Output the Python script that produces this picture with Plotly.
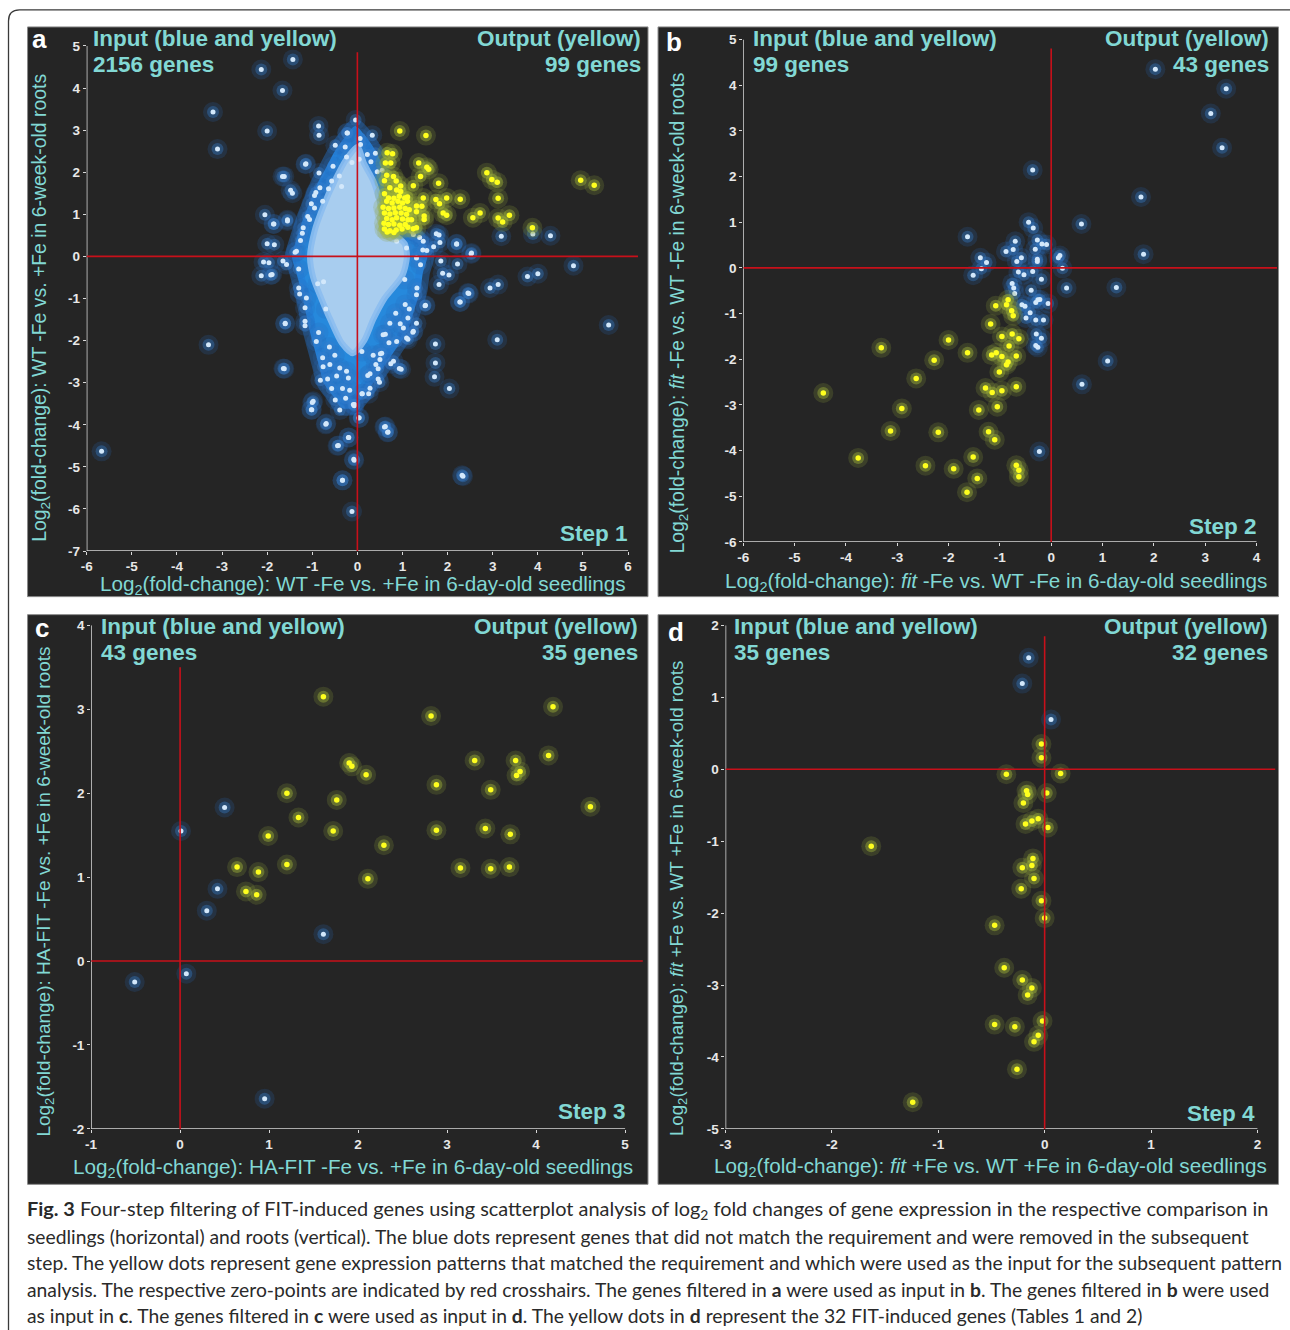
import plotly.graph_objects as go

W, H = 1290, 1330

# ---------------- DATA ----------------
# Panel a (Step 1)
a_blue_x = [-1.43, -2.13, -1.66, -3.2, -3.1, -2.0, -0.04, -0.86, -0.85, -0.23, 0.33, -1.15, -0.85, -1.66,
            -1.48, -1.44, -2.05, -1.85, -1.55, -2.0, -2.08, -1.96, -2.13, -1.92, -1.6, -3.3, -1.64, -5.67,
            -1.0, -1.02, -0.7, -0.44, -0.19, -0.07, -0.33, -0.12, 0.04, -0.07, 0.62, 0.67, 2.34, 2.04,
            1.73, 1.73, 1.71, 3.1, 5.57, 4.79, 3.77, 4.0, 2.94, 3.12, 2.45, 2.27, 1.81, 1.5, 3.19, 3.89,
            4.28, 2.52, 2.2, 2.22, 2.03, 1.81, 1.85, 0.93, 0.74, 0.51, 0.41, 0.23, 0.11,
            -0.22, 0.06, 0.07, 0.22, -0.49, -0.27, -0.54, -0.24, -0.12, 0.04, 0.30, 0.44,
            -1.14, -1.62, -1.86, -1.55, -0.92, -0.83, -0.64, -0.57, -0.40, -0.35, -0.95, -0.77,
            -1.06, -1.2, -1.26, -1.35, -1.84, -1.65, -1.57, -1.89, 1.24, 1.46, 1.75, 1.83, 1.69,
            2.53, 2.20, 1.89, 1.54, 1.31, 1.09, 0.87,
            -1.6, -1.16, -1.62, -0.98, -1.01, -0.69, -0.42, -0.20, -0.08, -0.33, 0.03, -0.06,
            0.60, 0.68, 2.32, 2.28, 2.47, 1.51, 1.31, 1.23, 1.12, 0.97, 0.80, 0.54, 0.50, 0.46,
            0.28, 0.46, 0.49, 0.28, 0.25, 0.10, 0.10, -0.09, -0.26, -0.49, -0.39, -0.17, -0.33,
            -0.57, -0.82, -0.66, -0.76, -0.61, -0.39, -0.24, -0.46, -0.20, -0.77, -0.91, -0.86,
            -1.16, -1.16, -1.13, -1.28, 0.57, 0.87, 1.09, 1.24, 1.12, 1.06, 1.31, 1.02, 0.72,
            -1.30, -1.38, -1.22, -1.10, -1.02, -0.95, -0.88, -0.70, -0.62, -0.50, 0.40, 0.55, 0.70,
            0.95, 1.15, 1.32, 1.40, 1.45, 1.38, 1.20, 1.05, 0.85, 0.62, 0.35, -0.75, -1.30, -1.42]
a_blue_y = [4.68, 4.44, 3.94, 3.43, 2.55, 2.98, 3.24, 3.1, 2.88, 2.93, 2.88, 2.19, 1.98, 1.9,
            1.57, 1.5, 0.99, 0.77, 0.84, 0.3, -0.13, -0.15, -0.46, -0.44, -1.6, -2.1, -2.66, -4.63,
            -3.47, -3.64, -3.99, -4.5, -4.3, -4.84, -5.32, -6.06, -3.83, -3.55, -4.04, -4.18, -5.22, -3.14,
            -2.08, -2.53, -2.86, -1.98, -1.63, -0.22, -0.48, -0.41, -0.75, -0.67, -0.87, -1.08, -0.67, -1.17,
            0.48, 0.53, 0.49, 0.06, 0.29, -0.18, -0.44, 0.51, -0.11, -2.66, -2.55, -2.31, -2.57, -2.83, -3.26,
            2.93, 2.80, 2.66, 2.42, 2.64, 2.60, 2.14, 2.36, 2.23, 2.31, 2.25, 2.01,
            2.20, 1.90, 0.77, 0.87, 1.52, 1.63, 1.61, 1.79, 1.91, 1.66, 1.15, 1.31,
            0.88, 0.68, 0.38, 0.12, 0.28, -0.11, -0.19, -0.43, 0.52, 0.36, 0.54, 0.33, 0.23,
            0.08, 0.30, -0.40, 0.14, -0.04, 0.20, 0.36,
            -1.59, -1.65, -2.67, -3.44, -3.64, -3.97, -4.49, -4.30, -4.82, -5.32, -3.84, -3.52,
            -4.05, -4.17, -5.2, -1.08, -0.88, -1.16, -1.59, -1.80, -1.97, -2.68, -2.49, -2.30, -2.45, -2.67,
            -2.79, -2.91, -2.99, -3.13, -3.26, -3.26, -2.26, -3.52, -3.37, -3.41, -3.65, -3.18, -3.14,
            -3.14, -2.94, -2.91, -2.62, -2.57, -2.65, -2.73, -2.84, -2.89, -2.41, -2.02, -1.81,
            -1.54, -1.22, -0.99, -0.89, -1.86, -2.02, -1.94, -1.78, -1.46, -1.14, -0.91, -1.70, -1.59,
            -0.30, 0.10, 0.55, 0.95, 1.25, 1.45, -0.65, -1.25, -2.15, -2.35, 2.45, 2.05, -2.05,
            -1.60, -1.25, -0.75, -0.20, 0.15, 0.45, 0.60, -0.55, -1.35, -1.85, -2.35, -0.60, -0.75]
a_yel_x = [0.94, 1.52, 0.66, 0.78, 0.62, 0.74, 1.36, 1.54, 1.58, 1.40, 1.80, 1.24, 2.87, 2.98, 3.1,
           4.95, 5.25, 3.12, 2.28, 1.98, 1.74, 1.82, 1.46, 1.31, 1.43, 1.48, 1.48, 1.9, 1.98, 2.56,
           2.72, 3.12, 3.22, 3.37, 3.88, 1.31,
           0.65, 0.80, 0.86, 0.60, 0.72, 0.87, 0.96, 0.60, 0.69, 0.81, 0.93, 1.05, 1.11, 0.65, 0.77,
           0.90, 1.00, 0.57, 0.69, 0.81, 0.94, 1.06, 1.15, 0.60, 0.72, 0.84, 0.97, 1.09, 0.65, 0.77,
           0.87, 1.00, 1.12, 0.59, 0.69, 0.81, 0.94, 1.06, 0.60, 0.72, 0.86, 0.99, 1.12, 0.66, 0.81,
           1.24, 1.20, 1.31, 1.11, 0.96]
a_yel_y = [2.98, 2.87, 2.46, 2.44, 2.22, 2.22, 2.22, 2.12, 2.07, 1.90, 1.74, 1.68, 1.99, 1.83, 1.76,
           1.81, 1.69, 1.38, 1.36, 1.39, 1.35, 1.25, 1.39, 1.20, 1.19, 0.96, 0.88, 1.03, 0.98, 0.92,
           1.03, 0.91, 0.82, 0.98, 0.68, 0.68,
           1.93, 1.90, 1.79, 1.80, 1.63, 1.58, 1.54, 1.49, 1.39, 1.38, 1.43, 1.39, 1.41, 1.31, 1.27,
           1.31, 1.27, 1.17, 1.14, 1.15, 1.17, 1.14, 1.11, 1.03, 1.01, 1.04, 1.03, 1.00, 0.90, 0.87,
           0.92, 0.89, 0.87, 0.79, 0.76, 0.77, 0.74, 0.76, 0.65, 0.61, 0.63, 0.65, 0.69, 0.58, 0.57,
           0.66, 0.87, 1.06, 1.31, 1.67]
# outlines of the dense part of the 2156-gene cloud (panel a): bright blue fringe and pale core
a_fringe_x = [-0.05, 0.15, 0.35, 0.5, 0.58, 0.6, 0.75, 1.0, 1.3, 1.5, 1.55, 1.45, 1.4, 1.25, 1.1, 0.85,
              0.6, 0.35, 0.15, -0.1, -0.35, -0.55, -0.75, -0.85, -0.95, -1.05, -1.15, -1.25, -1.35, -1.45,
              -1.35, -1.2, -1.05, -0.9, -0.7, -0.5, -0.3, -0.05]
a_fringe_y = [3.1, 2.9, 2.6, 2.3, 1.9, 1.3, 0.7, 0.6, 0.5, 0.3, 0.0, -0.4, -0.8, -1.3, -1.8, -2.2,
              -2.6, -3.0, -3.3, -3.6, -3.6, -3.3, -3.0, -2.6, -2.2, -1.8, -1.3, -0.8, -0.4, 0.0,
              0.4, 0.9, 1.3, 1.7, 2.1, 2.5, 2.8, 3.1]
a_core_x = [0.0, 0.15, 0.35, 0.5, 0.6, 0.85, 1.05, 1.1, 1.0, 0.6, 0.35, 0.15, -0.1, -0.35, -0.6, -0.8,
            -0.98, -1.05, -0.95, -0.75, -0.5, -0.25, 0.0]
a_core_y = [2.6, 2.2, 1.8, 1.3, 0.8, 0.5, 0.3, 0.0, -0.45, -1.0, -1.5, -2.0, -2.3, -2.05, -1.5, -1.0,
            -0.5, 0.0, 0.6, 1.2, 1.8, 2.3, 2.6]

# Panel b (Step 2)
b_blue_x = [2.03, 3.41, 3.11, 3.33, -0.36, 1.75, 0.59, 1.80, -0.44, -0.35, -1.63, -0.70, -0.27, -0.18, -0.09,
            -0.88, -0.74, -0.31, -0.58, -0.67, -0.27, -0.27, -1.38, -1.26, -1.36, -1.52, 0.17, 0.14, 0.22,
            -0.36, -0.53, -0.19, 0.30, 1.27, -0.76, -0.73, -0.71, -0.39, -0.26, -0.22, -0.06, -0.57, -0.51,
            -0.30, -0.41, -0.49, -0.30, -0.15, -0.29, -0.19, -0.30, -0.26, 1.1, 0.6, -0.23, -0.64]
b_blue_y = [4.35, 3.92, 3.38, 2.63, 2.14, 1.55, 0.96, 0.30, 1.0, 0.87, 0.68, 0.58, 0.61, 0.52, 0.51,
            0.36, 0.40, 0.41, 0.22, 0.14, 0.19, 0.14, 0.22, 0.12, -0.02, -0.16, 0.27, 0.22, -0.01,
            -0.08, -0.15, -0.25, -0.44, -0.43, -0.34, -0.44, -0.56, -0.49, -0.70, -0.69, -0.78, -0.81, -0.84,
            -0.76, -0.98, -1.10, -1.14, -1.14, -1.45, -1.54, -1.70, -1.74, -2.04, -2.55, -4.02, -0.09]
b_yel_x = [-4.44, -3.31, -2.0, -1.63, -2.28, -2.63, -2.91, -3.13, -3.76, -2.45, -2.2, -1.9, -1.64, -1.44,
           -1.52, -1.22, -1.10, -1.41, -1.05, -1.28, -1.15, -0.96, -0.68, -1.01, -0.68, -0.63, -0.63, -1.18,
           -1.08, -0.87, -0.84, -0.77, -0.74, -0.96, -0.76, -0.63, -0.82, -1.16, -1.07, -0.96, -0.68, -0.84,
           -0.87]
b_yel_y = [-2.74, -1.75, -1.58, -1.86, -2.02, -2.42, -3.08, -3.57, -4.16, -4.33, -3.6, -4.4, -4.91, -4.61,
           -4.14, -3.59, -3.76, -3.11, -3.04, -2.63, -2.73, -2.69, -2.6, -2.28, -4.32, -4.43, -4.57, -1.23,
           -0.83, -0.81, -0.70, -0.94, -1.05, -1.5, -1.45, -1.55, -1.71, -1.91, -1.86, -1.94, -1.93, -2.06,
           -2.12]

# Panel c (Step 3)
c_blue_x = [0.50, 0.01, 0.42, 0.30, 1.61, -0.51, 0.07, 0.95]
c_blue_y = [1.83, 1.55, 0.86, 0.60, 0.32, -0.25, -0.15, -1.64]
c_yel_x = [1.61, 2.82, 4.19, 4.14, 3.31, 3.77, 3.82, 3.78, 1.90, 1.93, 2.09, 2.88, 3.49, 1.20, 1.76, 4.61,
           1.33, 0.99, 1.72, 2.88, 3.43, 3.71, 2.29, 1.20, 0.64, 0.88, 3.15, 3.49, 3.70, 2.11, 0.74, 0.86]
c_yel_y = [3.15, 2.92, 3.03, 2.45, 2.39, 2.39, 2.26, 2.21, 2.36, 2.32, 2.22, 2.10, 2.04, 2.00, 1.92, 1.84,
           1.71, 1.49, 1.55, 1.56, 1.58, 1.51, 1.38, 1.15, 1.12, 1.06, 1.11, 1.10, 1.12, 0.98, 0.83, 0.79]

# Panel d (Step 4)
d_blue_x = [-0.15, -0.21, 0.06]
d_blue_y = [1.55, 1.19, 0.69]
d_yel_x = [-0.03, -0.03, -0.36, 0.15, -0.17, -0.16, -0.20, 0.02, -0.18, -0.12, -0.06, 0.03, -1.63, -0.11,
           -0.12, -0.21, -0.10, -0.22, -0.03, 0.0, -0.47, -0.38, -0.21, -0.12, -0.16, -0.02, -0.47, -0.28,
           -0.06, -0.10, -0.26, -1.24]
d_yel_y = [0.35, 0.16, -0.07, -0.06, -0.30, -0.35, -0.47, -0.33, -0.76, -0.72, -0.69, -0.81, -1.07, -1.24,
           -1.34, -1.37, -1.52, -1.66, -1.83, -2.07, -2.17, -2.76, -2.93, -3.04, -3.14, -3.50, -3.55, -3.58,
           -3.70, -3.79, -4.17, -4.63]

# Axis ticks
a_xticks = [-6, -5, -4, -3, -2, -1, 0, 1, 2, 3, 4, 5, 6]
a_yticks = [-7, -6, -5, -4, -3, -2, -1, 0, 1, 2, 3, 4, 5]
b_xticks = [-6, -5, -4, -3, -2, -1, 0, 1, 2, 3, 4]
b_yticks = [-6, -5, -4, -3, -2, -1, 0, 1, 2, 3, 4, 5]
c_xticks = [-1, 0, 1, 2, 3, 4, 5]
c_yticks = [-2, -1, 0, 1, 2, 3, 4]
d_xticks = [-3, -2, -1, 0, 1, 2]
d_yticks = [-5, -4, -3, -2, -1, 0, 1, 2]

# Texts
panels = [
    dict(letter="a", inp="2156 genes", out="99 genes", step="Step 1",
         xt="Log<sub>2</sub>(fold-change): WT -Fe vs. +Fe in 6-day-old seedlings",
         yt="Log<sub>2</sub>(fold-change): WT -Fe vs. +Fe in 6-week-old roots"),
    dict(letter="b", inp="99 genes", out="43 genes", step="Step 2",
         xt="Log<sub>2</sub>(fold-change): <i>fit</i> -Fe vs. WT -Fe in 6-day-old seedlings",
         yt="Log<sub>2</sub>(fold-change): <i>fit</i> -Fe vs. WT -Fe in 6-week-old roots"),
    dict(letter="c", inp="43 genes", out="35 genes", step="Step 3",
         xt="Log<sub>2</sub>(fold-change): HA-FIT -Fe vs. +Fe in 6-day-old seedlings",
         yt="Log<sub>2</sub>(fold-change): HA-FIT -Fe vs. +Fe in 6-week-old roots"),
    dict(letter="d", inp="35 genes", out="32 genes", step="Step 4",
         xt="Log<sub>2</sub>(fold-change): <i>fit</i> +Fe vs. WT +Fe in 6-day-old seedlings",
         yt="Log<sub>2</sub>(fold-change): <i>fit</i> +Fe vs. WT +Fe in 6-week-old roots"),
]
caption_lines = [
    "<b>Fig. 3</b> Four-step filtering of FIT-induced genes using scatterplot analysis of log<sub>2</sub> fold changes of gene expression in the respective comparison in",
    "seedlings (horizontal) and roots (vertical). The blue dots represent genes that did not match the requirement and were removed in the subsequent",
    "step. The yellow dots represent gene expression patterns that matched the requirement and which were used as the input for the subsequent pattern",
    "analysis. The respective zero-points are indicated by red crosshairs. The genes filtered in <b>a</b> were used as input in <b>b</b>. The genes filtered in <b>b</b> were used",
    "as input in <b>c</b>. The genes filtered in <b>c</b> were used as input in <b>d</b>. The yellow dots in <b>d</b> represent the 32 FIT-induced genes (Tables 1 and 2)",
]
caption_sizes = [19.9, 19.3, 19.3, 19.3, 19.3]

# ---------------- LAYOUT HELPERS ----------------
# (page pixel -> paper fraction, with a small correction for the capture offset/scale)
def px(x):
    return ((x - 6.5) / 0.993) / W

def py(y):
    return 1 - ((y - 7.1) / 0.9875) / H

CYAN = "#82d8d4"
AXC = "#d9d9d9"
RED = "#c8101a"
PANEL_BG = "#252525"
FONT = "Arial, Liberation Sans, sans-serif"

geo = [
    dict(box=(28, 27, 647, 596), xpx=(87, 637), ypx=(550.5, 46), xr=(-6, 6.22), yr=(-7, 5),
         xline=(-6, 6), vtop=4.85, hright=6.22, xt=a_xticks, yt=a_yticks),
    dict(box=(657, 27, 1276, 596), xpx=(742, 1274.5), ypx=(541.4, 39.5), xr=(-6, 4.4), yr=(-6, 5),
         xline=(-6, 4), vtop=4.8, hright=4.4, xt=b_xticks, yt=b_yticks),
    dict(box=(28, 614, 647, 1183), xpx=(91.4, 641.9), ypx=(1127.6, 624.7), xr=(-1, 5.2), yr=(-2, 4),
         xline=(-1, 5), vtop=3.5, hright=5.2, xt=c_xticks, yt=c_yticks),
    dict(box=(657, 614, 1276, 1183), xpx=(724.3, 1273), ypx=(1127.6, 624.7), xr=(-3, 2.17), yr=(-5, 2),
         xline=(-3, 2), vtop=1.85, hright=2.17, xt=d_xticks, yt=d_yticks),
]

tpos = [
    dict(letter=(40, 39), inp_x=91, out_x=642, top_y=39, step=(629, 533), xt=(627, 584), yt=(41, 308), ys=19.4),
    dict(letter=(673, 42), inp_x=750, out_x=1269, top_y=39, step=(1257, 526), xt=(1267, 581), yt=(678, 313), ys=19.3),
    dict(letter=(42, 627), inp_x=99, out_x=639, top_y=626, step=(627, 1110), xt=(634, 1167), yt=(45, 891), ys=19.0),
    dict(letter=(675, 631), inp_x=731, out_x=1268, top_y=626, step=(1255, 1112), xt=(1267, 1166), yt=(677, 898), ys=18.7),
]

fig = go.Figure()
shapes = []
annotations = []

shapes.append(dict(type="path", xref="paper", yref="paper",
                   path=f"M {px(9)},{py(1345)} L {px(9)},{py(21)} Q {px(9)},{py(10)} {px(20)},{py(10)} L {px(1300)},{py(10)}",
                   line=dict(color="#3a3a3a", width=1.3)))

series = [
    (a_blue_x, a_blue_y, a_yel_x, a_yel_y),
    (b_blue_x, b_blue_y, b_yel_x, b_yel_y),
    (c_blue_x, c_blue_y, c_yel_x, c_yel_y),
    (d_blue_x, d_blue_y, d_yel_x, d_yel_y),
]

for i, g in enumerate(geo):
    k = "" if i == 0 else str(i + 1)
    xa, ya = "x" + k, "y" + k
    x0, y0, x1, y1 = g["box"]
    shapes.append(dict(type="rect", xref="paper", yref="paper", layer="below",
                       x0=px(x0), x1=px(x1), y0=py(y1), y1=py(y0),
                       fillcolor=PANEL_BG, line=dict(color="#8a8a8a", width=1)))
    axis_common = dict(showgrid=False, zeroline=False, showline=False, ticks="outside", ticklen=3,
                       tickwidth=1.3, tickcolor=AXC,
                       tickfont=dict(family=FONT, size=13.5, color="#e8e8e8", weight="bold"))
    fig.layout["xaxis" + k] = dict(domain=[px(g["xpx"][0]), px(g["xpx"][1])], range=list(g["xr"]),
                                   tickvals=g["xt"], ticktext=[str(v) for v in g["xt"]],
                                   anchor=ya, **axis_common)
    fig.layout["yaxis" + k] = dict(domain=[py(g["ypx"][0]), py(g["ypx"][1])], range=list(g["yr"]),
                                   tickvals=g["yt"], ticktext=[str(v) for v in g["yt"]],
                                   anchor=xa, **axis_common)
    shapes.append(dict(type="line", xref=xa, yref=ya, x0=g["xline"][0], x1=g["xline"][1],
                       y0=g["yr"][0], y1=g["yr"][0], line=dict(color=AXC, width=1.5)))
    shapes.append(dict(type="line", xref=xa, yref=ya, x0=g["xr"][0], x1=g["xr"][0],
                       y0=g["yr"][0], y1=g["yr"][1], line=dict(color=AXC, width=1.5)))
    shapes.append(dict(type="line", xref=xa, yref=ya, x0=0, x1=0, y0=g["yr"][0], y1=g["vtop"],
                       line=dict(color=RED, width=1.6), layer="above"))
    shapes.append(dict(type="line", xref=xa, yref=ya, x0=g["xr"][0], x1=g["hright"], y0=0, y1=0,
                       line=dict(color=RED, width=1.6), layer="above"))

    bx, by, yx, yy = series[i]
    if i == 0:
        fig.add_trace(go.Scatter(x=a_fringe_x, y=a_fringe_y, mode="lines", fill="toself",
                                 fillcolor="rgba(38,145,235,0.92)",
                                 line=dict(color="rgba(35,120,215,0.4)", width=14, shape="spline", smoothing=0.7),
                                 xaxis=xa, yaxis=ya, hoverinfo="skip", showlegend=False))
    fig.add_trace(go.Scatter(x=bx, y=by, mode="markers", xaxis=xa, yaxis=ya, showlegend=False,
                             hoverinfo="skip", marker=dict(size=20, color="rgba(40,105,185,0.2)")))
    fig.add_trace(go.Scatter(x=bx, y=by, mode="markers", xaxis=xa, yaxis=ya, showlegend=False,
                             hoverinfo="skip", marker=dict(size=12, color="rgba(55,125,205,0.38)")))
    if i == 0:
        fig.add_trace(go.Scatter(x=a_core_x, y=a_core_y, mode="lines", fill="toself",
                                 fillcolor="#a8cdef",
                                 line=dict(color="rgba(140,190,240,0.9)", width=6, shape="spline", smoothing=0.7),
                                 xaxis=xa, yaxis=ya, hoverinfo="skip", showlegend=False))
    fig.add_trace(go.Scatter(x=bx, y=by, mode="markers", xaxis=xa, yaxis=ya, showlegend=False,
                             hoverinfo="skip", marker=dict(size=5, color="#d3e8fb")))
    fig.add_trace(go.Scatter(x=yx, y=yy, mode="markers", xaxis=xa, yaxis=ya, showlegend=False,
                             hoverinfo="skip", marker=dict(size=20, color="rgba(140,160,60,0.22)")))
    fig.add_trace(go.Scatter(x=yx, y=yy, mode="markers", xaxis=xa, yaxis=ya, showlegend=False,
                             hoverinfo="skip", marker=dict(size=12, color="rgba(165,185,60,0.42)")))
    fig.add_trace(go.Scatter(x=yx, y=yy, mode="markers", xaxis=xa, yaxis=ya, showlegend=False,
                             hoverinfo="skip", marker=dict(size=5.5, color="#ffff1e")))

    t = tpos[i]
    pdat = panels[i]
    lab_font = dict(family=FONT, size=22.5, color=CYAN)
    annotations.append(dict(xref="paper", yref="paper", x=px(t["letter"][0]), y=py(t["letter"][1]),
                            text="<b>" + pdat["letter"] + "</b>", showarrow=False, xanchor="center",
                            yanchor="middle", font=dict(family=FONT, size=26, color="white")))
    for txt, xx, yy_, anc in [("<b>Input (blue and yellow)</b>", t["inp_x"], t["top_y"], "left"),
                              ("<b>" + pdat["inp"] + "</b>", t["inp_x"], t["top_y"] + 26, "left"),
                              ("<b>Output (yellow)</b>", t["out_x"], t["top_y"], "right"),
                              ("<b>" + pdat["out"] + "</b>", t["out_x"], t["top_y"] + 26, "right"),
                              ("<b>" + pdat["step"] + "</b>", t["step"][0], t["step"][1], "right")]:
        annotations.append(dict(xref="paper", yref="paper", x=px(xx), y=py(yy_), text=txt,
                                showarrow=False, xanchor=anc, yanchor="middle", font=lab_font))
    annotations.append(dict(xref="paper", yref="paper", x=px(t["xt"][0]), y=py(t["xt"][1]),
                            text=pdat["xt"], showarrow=False, xanchor="right", yanchor="middle",
                            font=dict(family=FONT, size=20.7, color=CYAN)))
    annotations.append(dict(xref="paper", yref="paper", x=px(t["yt"][0]), y=py(t["yt"][1]),
                            text=pdat["yt"], showarrow=False, xanchor="center", yanchor="middle",
                            textangle=-90, font=dict(family=FONT, size=t["ys"], color=CYAN)))

for j, line in enumerate(caption_lines):
    annotations.append(dict(xref="paper", yref="paper", x=px(25), y=py(1208 + j * 26.6), text=line,
                            showarrow=False, xanchor="left", yanchor="middle",
                            font=dict(family="Lato, Open Sans", size=caption_sizes[j], color="#2a2a2a")))

fig.update_layout(width=W, height=H, margin=dict(l=0, r=0, t=0, b=0), paper_bgcolor="white",
                  plot_bgcolor="rgba(0,0,0,0)", shapes=shapes, annotations=annotations, showlegend=False)

fig.write_html("out.html", config={"displayModeBar": False},
               post_script="document.body.style.margin='0px';document.body.style.overflow='hidden';")
